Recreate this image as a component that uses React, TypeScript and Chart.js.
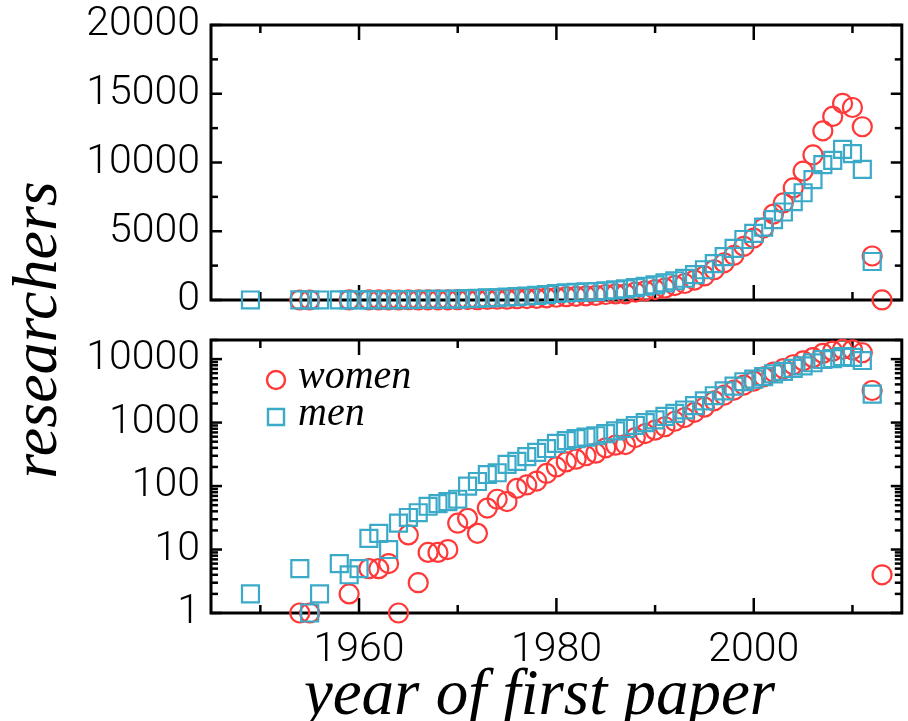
import React, { useEffect, useRef } from 'react';
import { Chart, registerables } from 'chart.js';

Chart.register(...registerables);

// ---- data ----
const womenYears = [
  1954, 1955, 1959, 1961, 1962, 1963, 1964, 1965, 1966, 1967, 1968, 1969,
  1970, 1971, 1972, 1973, 1974, 1975, 1976, 1977, 1978, 1979,
  1980, 1981, 1982, 1983, 1984, 1985, 1986, 1987, 1988, 1989,
  1990, 1991, 1992, 1993, 1994, 1995, 1996, 1997, 1998, 1999,
  2000, 2001, 2002, 2003, 2004, 2005, 2006, 2007, 2008, 2009,
  2010, 2011, 2012, 2013,
];
const womenCounts = [
  1, 1, 2, 5, 5, 6, 1, 17, 3, 9, 9, 10,
  26, 31, 18, 45, 62, 57, 92, 104, 120, 158,
  200, 240, 265, 300, 330, 400, 440, 450, 580, 670,
  760, 860, 1050, 1200, 1450, 1750, 2200, 2700, 3250, 3900,
  4500, 5250, 6250, 7060, 8150, 9370, 10550, 12300, 13350, 14300,
  14000, 12600, 3200, 4,
];
const menYears = [
  1949, 1954, 1955, 1956, 1958, 1959,
  1960, 1961, 1962, 1963, 1964, 1965, 1966, 1967, 1968, 1969,
  1970, 1971, 1972, 1973, 1974, 1975, 1976, 1977, 1978, 1979,
  1980, 1981, 1982, 1983, 1984, 1985, 1986, 1987, 1988, 1989,
  1990, 1991, 1992, 1993, 1994, 1995, 1996, 1997, 1998, 1999,
  2000, 2001, 2002, 2003, 2004, 2005, 2006, 2007, 2008, 2009,
  2010, 2011, 2012,
];
const menCounts = [
  2, 5, 1, 2, 6, 4,
  5, 15, 18, 10, 26, 32, 38, 48, 53, 57,
  62, 100, 118, 152, 162, 220, 245, 290, 340, 390,
  470, 520, 560, 590, 620, 670, 740, 810, 900, 1000,
  1100, 1250, 1400, 1580, 1850, 2200, 2650, 3150, 3750, 4400,
  4850, 5300, 5850, 6400, 7150, 7800, 8750, 9850, 10150, 10950,
  10650, 9500, 2800,
];

const linearTicks = [0, 5000, 10000, 15000, 20000];
const linearMinorTicks = [2500, 7500, 12500, 17500];
const logTicks = [1, 10, 100, 1000, 10000];
const yearTicks = [1960, 1980, 2000];
const yearMinorTicks = [1950, 1970, 1990, 2010];

const RED = 'rgb(255,56,56)';
const CYAN = 'rgb(58,170,200)';
const TICK_FONT = { family: 'Roboto, "Liberation Sans", Arial, sans-serif', size: 41, weight: '300' };

function logMinor(): number[] {
  const out: number[] = [];
  for (let d = 1; d <= 10000; d *= 10) {
    for (let k = 2; k <= 9; k++) {
      const v = d * k;
      if (v <= 20000) out.push(v);
    }
  }
  return out;
}

function makeFrame(cfg: { xMajor: number[]; xMinor: number[]; yMajor: number[]; yMinor: number[] }) {
  return {
    id: 'frame',
    beforeDatasetsDraw(chart: any) {
      const { ctx, chartArea: a, scales } = chart;
      const xs = scales.x;
      const ys = scales.y;
      ctx.save();
      ctx.strokeStyle = '#000';
      ctx.lineCap = 'butt';
      ctx.lineWidth = 2.5;
      const seg = (x1: number, y1: number, x2: number, y2: number) => {
        ctx.beginPath();
        ctx.moveTo(x1, y1);
        ctx.lineTo(x2, y2);
        ctx.stroke();
      };
      const vt = (v: number, len: number) => {
        const p = xs.getPixelForValue(v);
        seg(p, a.bottom, p, a.bottom - len);
        seg(p, a.top, p, a.top + len);
      };
      const ht = (v: number, len: number) => {
        const p = ys.getPixelForValue(v);
        seg(a.left, p, a.left + len, p);
        seg(a.right, p, a.right - len, p);
      };
      cfg.xMajor.forEach((v) => vt(v, 15));
      cfg.xMinor.forEach((v) => vt(v, 8));
      cfg.yMajor.forEach((v) => ht(v, 11));
      cfg.yMinor.forEach((v) => ht(v, 7));
      ctx.lineWidth = 3;
      ctx.strokeRect(a.left, a.top, a.right - a.left, a.bottom - a.top);
      ctx.restore();
    },
  };
}

const innerLegend = {
  id: 'innerLegend',
  afterDatasetsDraw(chart: any) {
    const { ctx, chartArea: a } = chart;
    ctx.save();
    chart.data.datasets.forEach((ds: any, i: number) => {
      const cx = a.left + 65;
      const cy = a.top + 40 + i * 37;
      ctx.strokeStyle = ds.borderColor;
      ctx.lineWidth = 2.4;
      ctx.beginPath();
      if (ds.pointStyle === 'rect') {
        ctx.rect(cx - 8, cy - 8, 16, 16);
      } else {
        ctx.arc(cx, cy, 9, 0, Math.PI * 2);
      }
      ctx.stroke();
      ctx.fillStyle = '#000';
      ctx.font = 'italic 40px "Liberation Serif", "Times New Roman", serif';
      ctx.textBaseline = 'alphabetic';
      ctx.textAlign = 'left';
      ctx.fillText(ds.label, a.left + 87, cy + 7.5);
    });
    ctx.restore();
  },
};

function makeDatasets() {
  return [
    {
      label: 'women',
      data: womenYears.map((x, i) => ({ x, y: womenCounts[i] })),
      pointStyle: 'circle',
      pointRadius: 9.5,
      pointBorderWidth: 2.2,
      borderColor: RED,
      pointBorderColor: RED,
      backgroundColor: 'rgba(0,0,0,0)',
      pointBackgroundColor: 'rgba(0,0,0,0)',
      showLine: false,
      clip: false as any,
      order: 1,
    },
    {
      label: 'men',
      data: menYears.map((x, i) => ({ x, y: menCounts[i] })),
      pointStyle: 'rect',
      pointRadius: 12,
      pointBorderWidth: 2.2,
      borderColor: CYAN,
      pointBorderColor: CYAN,
      backgroundColor: 'rgba(0,0,0,0)',
      pointBackgroundColor: 'rgba(0,0,0,0)',
      showLine: false,
      clip: false as any,
      order: 0,
    },
  ];
}

const hidden = { display: false, drawTicks: false };

const noPad = (s: any) => {
  s.paddingTop = 0;
  s.paddingBottom = 0;
  s.paddingLeft = 0;
  s.paddingRight = 0;
};

export default function App() {
  const topRef = useRef<HTMLCanvasElement>(null);
  const botRef = useRef<HTMLCanvasElement>(null);

  useEffect(() => {
    const common = {
      animation: false as const,
      responsive: false,
      events: [] as any[],
      plugins: { legend: { display: false }, tooltip: { enabled: false } },
    };
    const top = new Chart(topRef.current as HTMLCanvasElement, {
      type: 'scatter',
      data: { datasets: makeDatasets() as any },
      options: {
        ...common,
        layout: { padding: { top: 25, right: 2.5, left: 0, bottom: 0 } },
        scales: {
          x: {
            type: 'linear',
            min: 1945,
            max: 2015,
            grid: hidden,
            border: { display: false },
            ticks: { display: false },
            afterFit: (s: any) => {
              s.height = 20;
              noPad(s);
            },
          },
          y: {
            type: 'linear',
            min: 0,
            max: 20000,
            grid: hidden,
            border: { display: false },
            afterBuildTicks: (s: any) => {
              s.ticks = linearTicks.map((v) => ({ value: v }));
            },
            ticks: {
              autoSkip: false,
              callback: (v: any) => String(v),
              font: TICK_FONT,
              color: '#000',
              padding: 11,
            },
            afterFit: (s: any) => {
              s.width = 211;
              noPad(s);
            },
          },
        },
      } as any,
      plugins: [
        makeFrame({ xMajor: yearTicks, xMinor: yearMinorTicks, yMajor: linearTicks, yMinor: linearMinorTicks }),
      ],
    });

    const bot = new Chart(botRef.current as HTMLCanvasElement, {
      type: 'scatter',
      data: { datasets: makeDatasets() as any },
      options: {
        ...common,
        layout: { padding: { top: 20, right: 2.5, left: 0, bottom: 48 } },
        scales: {
          x: {
            type: 'linear',
            min: 1945,
            max: 2015,
            grid: hidden,
            border: { display: false },
            afterBuildTicks: (s: any) => {
              s.ticks = yearTicks.map((v) => ({ value: v }));
            },
            ticks: {
              autoSkip: false,
              maxRotation: 0,
              callback: (v: any) => String(v),
              font: TICK_FONT,
              color: '#000',
              padding: 13,
            },
            afterFit: (s: any) => {
              s.height = 60;
              noPad(s);
            },
          },
          y: {
            type: 'logarithmic',
            min: 1,
            max: 20000,
            grid: hidden,
            border: { display: false },
            afterBuildTicks: (s: any) => {
              s.ticks = logTicks.map((v) => ({ value: v, major: true }));
            },
            ticks: {
              autoSkip: false,
              callback: (v: any) => String(v),
              font: TICK_FONT,
              color: '#000',
              padding: 11,
            },
            afterFit: (s: any) => {
              s.width = 211;
              noPad(s);
            },
          },
        },
      } as any,
      plugins: [
        makeFrame({ xMajor: yearTicks, xMinor: yearMinorTicks, yMajor: logTicks, yMinor: logMinor() }),
        innerLegend,
      ],
    });

    return () => {
      top.destroy();
      bot.destroy();
    };
  }, []);

  return (
    <div
      style={{
        position: 'fixed',
        left: 0,
        top: 0,
        width: 908,
        height: 721,
        overflow: 'hidden',
        background: '#fff',
      }}
    >
      <canvas
        ref={topRef}
        width={916}
        height={320}
        style={{ position: 'absolute', left: 0, top: 0, width: 916, height: 320 }}
      />
      <canvas
        ref={botRef}
        width={916}
        height={401}
        style={{ position: 'absolute', left: 0, top: 320, width: 916, height: 401 }}
      />
      <div
        style={{
          position: 'absolute',
          left: 35 - 200,
          top: 330 - 32,
          width: 400,
          height: 64,
          lineHeight: '64px',
          fontSize: 64,
          fontFamily: '"Liberation Serif", "Times New Roman", serif',
          fontStyle: 'italic',
          textAlign: 'center',
          whiteSpace: 'nowrap',
          transform: 'rotate(-90deg)',
          transformOrigin: '50% 50%',
          color: '#000',
        }}
      >
        researchers
      </div>
      <div
        style={{
          position: 'absolute',
          left: 239.5,
          top: 659.6,
          width: 600,
          height: 65,
          lineHeight: '65px',
          fontSize: 65,
          fontFamily: '"Liberation Serif", "Times New Roman", serif',
          fontStyle: 'italic',
          textAlign: 'center',
          whiteSpace: 'nowrap',
          color: '#000',
        }}
      >
        year of first paper
      </div>
    </div>
  );
}
